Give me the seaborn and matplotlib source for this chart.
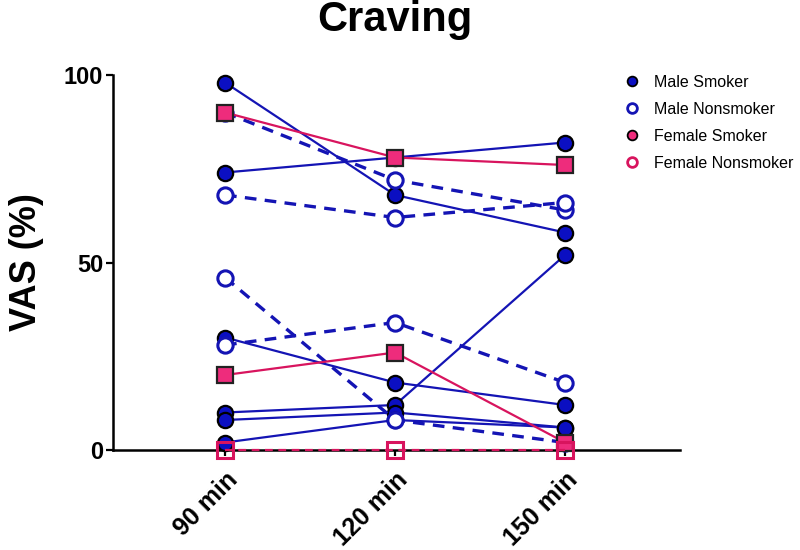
import numpy as np
import pandas as pd
import matplotlib
matplotlib.use("Agg")
import matplotlib.pyplot as plt
from matplotlib.lines import Line2D
import seaborn as sns

# ---- data ----
times = ["90 min", "120 min", "150 min"]
male_smoker = [[98, 68, 58], [74, 78, 82], [30, 18, 12], [10, 12, 52], [8, 10, 6], [2, 8, 6]]
male_nonsmoker = [[90, 72, 64], [68, 62, 66], [46, 8, 2], [28, 34, 18]]
female_smoker = [[90, 78, 76], [20, 26, 2]]
female_nonsmoker = [[0, 0, 0]]
legend_labels = ["Male Smoker", "Male Nonsmoker", "Female Smoker", "Female Nonsmoker"]
y_ticks = [0, 50, 100]


def to_long(series, group):
    rows = []
    for i, subj in enumerate(series):
        for t, v in zip(times, subj):
            rows.append({"subject": f"{group}_{i}", "time": t, "VAS": v, "group": group})
    return pd.DataFrame(rows)


sns.set_theme(style="white")
plt.rcParams["font.family"] = ["Liberation Sans", "DejaVu Sans"]
plt.rcParams["text.color"] = "black"
plt.rcParams["axes.labelcolor"] = "black"
plt.rcParams["xtick.color"] = "black"
plt.rcParams["ytick.color"] = "black"

BLUE = "#1414B4"
BLUE_FILL = "#0B0FC2"
PINK = "#D8145E"
PINK_FILL = "#EE2C7C"

fig = plt.figure(figsize=(8, 5.5), dpi=100)
ax = fig.add_axes([113 / 800, 1 - 450 / 550, (680 - 113) / 800, (450 - 75) / 550])

styles = [
    (male_smoker, "Male Smoker", dict(color=BLUE, lw=1.6, ls="-", marker="o", ms=11,
                                        mfc=BLUE_FILL, mec="black", mew=1.6)),
    (male_nonsmoker, "Male Nonsmoker", dict(color=BLUE, lw=2.4, ls=(0, (3.5, 2.5)), marker="o", ms=11,
                                              mfc="white", mec=BLUE, mew=2.2)),
    (female_smoker, "Female Smoker", dict(color=PINK, lw=1.6, ls="-", marker="s", ms=11,
                                            mfc=PINK_FILL, mec="#222222", mew=1.6)),
    (female_nonsmoker, "Female Nonsmoker", dict(color=PINK, lw=1.6, ls=(0, (3.5, 2.5)), marker="s", ms=11,
                                                  mfc="none", mec=PINK, mew=2.2)),
]

for series, name, kw in styles:
    df = to_long(series, name)
    sns.lineplot(data=df, x="time", y="VAS", units="subject", estimator=None,
                 sort=False, ax=ax, clip_on=False, zorder=3, **kw)

ax.set_xlim(-0.659, 2.676)
ax.set_ylim(0, 100)
ax.set_yticks(y_ticks)
ax.set_yticklabels([str(v) for v in y_ticks], fontsize=17, fontweight="bold")
ax.set_xticks(range(len(times)))
ax.set_xticklabels(times, fontsize=18, fontweight="bold", rotation=45,
                   ha="right", va="top", rotation_mode="anchor")
ax.set_xlabel("")
ax.set_ylabel("VAS (%)", fontsize=26, fontweight="bold", labelpad=14)
ax.tick_params(axis="y", which="major", direction="out", length=5, width=1.6, pad=2, left=True)
ax.tick_params(axis="x", which="major", direction="out", length=4, width=1.6, pad=9, bottom=True)
for side in ["top", "right"]:
    ax.spines[side].set_visible(False)
for side in ["left", "bottom"]:
    ax.spines[side].set_linewidth(1.8)
    ax.spines[side].set_color("black")
ax.set_facecolor("white")
ax.grid(False)

fig.text(395 / 800, 1 - 20 / 550, "Craving", fontsize=30, fontweight="bold",
         ha="center", va="center", color="black")

handles = [
    Line2D([], [], ls="none", marker="o", ms=7, mfc=BLUE_FILL, mec="black", mew=1.3),
    Line2D([], [], ls="none", marker="o", ms=7, mfc="white", mec=BLUE, mew=2.0),
    Line2D([], [], ls="none", marker="o", ms=7, mfc=PINK_FILL, mec="black", mew=1.3),
    Line2D([], [], ls="none", marker="o", ms=7, mfc="white", mec=PINK, mew=2.0),
]
fig.legend(handles, legend_labels, loc="upper left", bbox_to_anchor=(624 / 800, 1 - 75 / 550),
           frameon=False, fontsize=11.5, handlelength=1.0, handletextpad=0.9,
           labelspacing=0.75, borderaxespad=0, borderpad=0, labelcolor="black")

fig.savefig("out.png", dpi=100, facecolor="white")
